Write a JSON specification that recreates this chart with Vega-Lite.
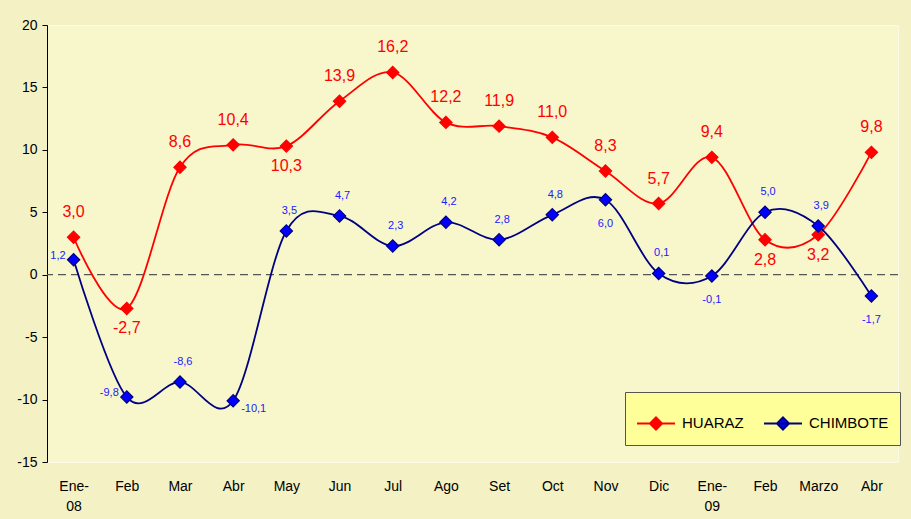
{
  "$schema": "https://vega.github.io/schema/vega-lite/v6.json",
  "width": 851,
  "height": 437,
  "autosize": {"type": "none"},
  "padding": {"left": 47, "top": 25, "right": 13, "bottom": 57},
  "background": "#F4F2C5",
  "config": {
    "view": {"stroke": "#FBFAE6", "fill": "#F8F6CB"},
    "font": "Liberation Sans",
    "locale": {"number": {"decimal": ",", "thousands": ".", "grouping": [3], "currency": ["", ""], "minus": "-"}}
  },
  "datasets": {
    "serie": [
      {"mes": "Ene-08", "serie": "HUARAZ", "valor": 3.0},
      {"mes": "Feb-08", "serie": "HUARAZ", "valor": -2.7},
      {"mes": "Mar-08", "serie": "HUARAZ", "valor": 8.6},
      {"mes": "Abr-08", "serie": "HUARAZ", "valor": 10.4},
      {"mes": "May-08", "serie": "HUARAZ", "valor": 10.3},
      {"mes": "Jun-08", "serie": "HUARAZ", "valor": 13.9},
      {"mes": "Jul-08", "serie": "HUARAZ", "valor": 16.2},
      {"mes": "Ago-08", "serie": "HUARAZ", "valor": 12.2},
      {"mes": "Set-08", "serie": "HUARAZ", "valor": 11.9},
      {"mes": "Oct-08", "serie": "HUARAZ", "valor": 11.0},
      {"mes": "Nov-08", "serie": "HUARAZ", "valor": 8.3},
      {"mes": "Dic-08", "serie": "HUARAZ", "valor": 5.7},
      {"mes": "Ene-09", "serie": "HUARAZ", "valor": 9.4},
      {"mes": "Feb-09", "serie": "HUARAZ", "valor": 2.8},
      {"mes": "Marzo-09", "serie": "HUARAZ", "valor": 3.2},
      {"mes": "Abr-09", "serie": "HUARAZ", "valor": 9.8},
      {"mes": "Ene-08", "serie": "CHIMBOTE", "valor": 1.2},
      {"mes": "Feb-08", "serie": "CHIMBOTE", "valor": -9.8},
      {"mes": "Mar-08", "serie": "CHIMBOTE", "valor": -8.6},
      {"mes": "Abr-08", "serie": "CHIMBOTE", "valor": -10.1},
      {"mes": "May-08", "serie": "CHIMBOTE", "valor": 3.5},
      {"mes": "Jun-08", "serie": "CHIMBOTE", "valor": 4.7},
      {"mes": "Jul-08", "serie": "CHIMBOTE", "valor": 2.3},
      {"mes": "Ago-08", "serie": "CHIMBOTE", "valor": 4.2},
      {"mes": "Set-08", "serie": "CHIMBOTE", "valor": 2.8},
      {"mes": "Oct-08", "serie": "CHIMBOTE", "valor": 4.8},
      {"mes": "Nov-08", "serie": "CHIMBOTE", "valor": 6.0},
      {"mes": "Dic-08", "serie": "CHIMBOTE", "valor": 0.1},
      {"mes": "Ene-09", "serie": "CHIMBOTE", "valor": -0.1},
      {"mes": "Feb-09", "serie": "CHIMBOTE", "valor": 5.0},
      {"mes": "Marzo-09", "serie": "CHIMBOTE", "valor": 3.9},
      {"mes": "Abr-09", "serie": "CHIMBOTE", "valor": -1.7}
    ]
  },
  "data": {"name": "serie"},
  "encoding": {
    "x": {
      "field": "mes",
      "type": "nominal",
      "sort": null,
      "scale": {"padding": 0.5},
      "title": null,
      "axis": {
        "labelAngle": 0,
        "ticks": false,
        "domain": false,
        "labelPadding": 17,
        "labelFontSize": 14,
        "labelColor": "#000000",
        "labelFont": "Liberation Sans",
        "labelLineHeight": 20,
        "labelExpr": "datum.value == 'Ene-08' ? ['Ene-', '08'] : datum.value == 'Ene-09' ? ['Ene-', '09'] : split(datum.value, '-')[0]"
      }
    },
    "y": {
      "field": "valor",
      "type": "quantitative",
      "scale": {"domain": [-15, 20], "nice": false},
      "title": null,
      "axis": {
        "values": [-15, -10, -5, 0, 5, 10, 15, 20],
        "grid": false,
        "domainColor": "#000000",
        "tickColor": "#000000",
        "tickSize": 5,
        "labelPadding": 5,
        "labelFontSize": 14,
        "labelColor": "#000000",
        "labelFont": "Liberation Sans",
        "format": "d"
      }
    }
  },
  "layer": [
    {
      "data": {"values": [{"ref": 0}]},
      "mark": {"type": "rule", "strokeDash": [8, 5], "color": "#555555", "strokeWidth": 1.3},
      "encoding": {"x": null, "y": {"field": "ref", "type": "quantitative"}}
    },
    {
      "mark": {"type": "line", "interpolate": "cardinal", "strokeWidth": 1.8},
      "encoding": {
        "color": {
          "field": "serie",
          "type": "nominal",
          "scale": {"domain": ["HUARAZ", "CHIMBOTE"], "range": ["#FF0000", "#000080"]},
          "legend": {
            "title": null,
            "orient": "none",
            "legendX": 578,
            "legendY": 367,
            "direction": "horizontal",
            "fillColor": "#FFFF99",
            "strokeColor": "#555555",
            "padding": 11,
            "labelFontSize": 15,
            "labelColor": "#000000",
            "labelFont": "Liberation Sans",
            "labelOffset": 6,
            "columnPadding": 16,
            "symbolSize": 1444,
            "symbolStrokeWidth": 2,
            "symbolType": "M-1,0H1M0,-0.32L0.32,0L0,0.32L-0.32,0Z",
            "encode": {
              "symbols": {
                "update": {
                  "fill": {"signal": "datum.value === 'HUARAZ' ? '#FF0000' : '#0000FF'"},
                  "stroke": {"signal": "datum.value === 'HUARAZ' ? '#FF0000' : '#000080'"}
                }
              }
            }
          }
        }
      }
    },
    {
      "mark": {"type": "point", "shape": "diamond", "size": 150, "filled": true, "opacity": 1, "strokeWidth": 1.2},
      "encoding": {
        "fill": {
          "field": "serie",
          "type": "nominal",
          "scale": {"domain": ["HUARAZ", "CHIMBOTE"], "range": ["#FF0000", "#0000FF"]},
          "legend": null
        },
        "stroke": {
          "field": "serie",
          "type": "nominal",
          "scale": {"domain": ["HUARAZ", "CHIMBOTE"], "range": ["#FF0000", "#000080"]},
          "legend": null
        }
      }
    },
    {
      "transform": [
        {"filter": "datum.serie == 'HUARAZ'"},
        {"filter": {"not": {"field": "mes", "oneOf": ["Feb-08", "May-08", "Feb-09", "Marzo-09"]}}}
      ],
      "mark": {"type": "text", "fontSize": 16, "color": "#FF0000", "dy": -25, "baseline": "middle"},
      "encoding": {"text": {"field": "valor", "type": "quantitative", "format": ".1f"}}
    },
    {
      "transform": [
        {"filter": "datum.serie == 'HUARAZ'"},
        {"filter": {"field": "mes", "oneOf": ["Feb-08", "May-08", "Feb-09", "Marzo-09"]}}
      ],
      "mark": {"type": "text", "fontSize": 16, "color": "#FF0000", "dy": 20, "baseline": "middle"},
      "encoding": {"text": {"field": "valor", "type": "quantitative", "format": ".1f"}}
    },
    {
      "transform": [
        {"filter": "datum.serie == 'CHIMBOTE'"},
        {"filter": {"field": "mes", "oneOf": ["Mar-08", "May-08", "Jun-08", "Jul-08", "Ago-08", "Set-08", "Oct-08", "Dic-08", "Feb-09", "Marzo-09"]}}
      ],
      "mark": {"type": "text", "fontSize": 11, "color": "#2020FF", "dy": -20, "dx": 3, "baseline": "middle"},
      "encoding": {"text": {"field": "valor", "type": "quantitative", "format": ".1f"}}
    },
    {
      "transform": [
        {"filter": "datum.serie == 'CHIMBOTE'"},
        {"filter": {"field": "mes", "oneOf": ["Nov-08", "Ene-09", "Abr-09"]}}
      ],
      "mark": {"type": "text", "fontSize": 11, "color": "#2020FF", "dy": 24, "baseline": "middle"},
      "encoding": {"text": {"field": "valor", "type": "quantitative", "format": ".1f"}}
    },
    {
      "transform": [
        {"filter": "datum.serie == 'CHIMBOTE'"},
        {"filter": {"field": "mes", "oneOf": ["Ene-08", "Feb-08"]}}
      ],
      "mark": {"type": "text", "fontSize": 11, "color": "#2020FF", "dx": -8, "dy": -4, "align": "right", "baseline": "middle"},
      "encoding": {"text": {"field": "valor", "type": "quantitative", "format": ".1f"}}
    },
    {
      "transform": [
        {"filter": "datum.serie == 'CHIMBOTE'"},
        {"filter": {"field": "mes", "oneOf": ["Abr-08"]}}
      ],
      "mark": {"type": "text", "fontSize": 11, "color": "#2020FF", "dx": 8, "dy": 8, "align": "left", "baseline": "middle"},
      "encoding": {"text": {"field": "valor", "type": "quantitative", "format": ".1f"}}
    }
  ]
}
